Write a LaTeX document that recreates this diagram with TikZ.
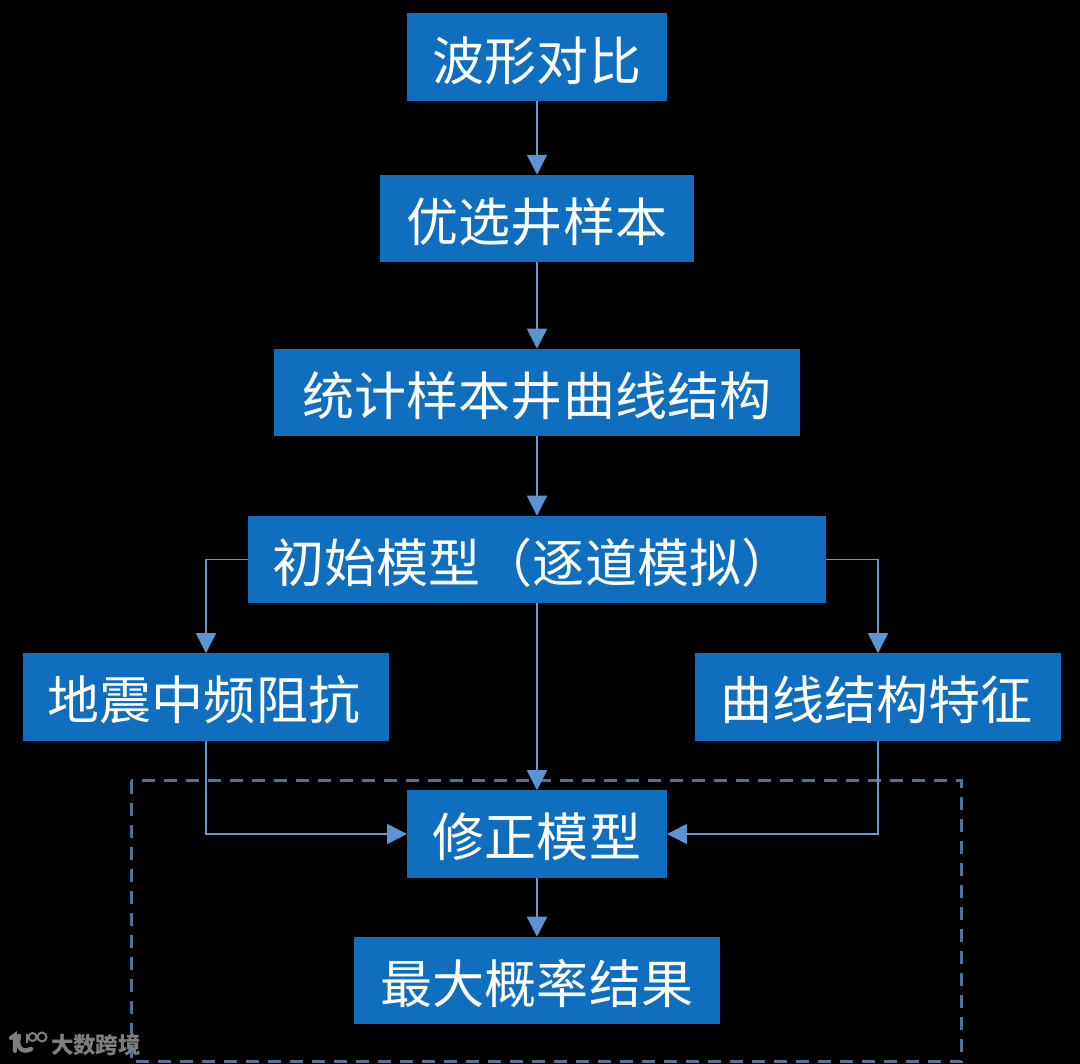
\documentclass[tikz,border=0pt]{standalone}
\usepackage{fontspec}
\usepackage{xcolor}
\newfontfamily\cjk{Noto Sans CJK SC}
\usetikzlibrary{arrows.meta}
\definecolor{boxblue}{HTML}{0F6EBE}
\definecolor{linkblue}{HTML}{6A97CC}
\definecolor{tipblue}{HTML}{5B93D3}
\definecolor{dashblue}{HTML}{4F7299}
\definecolor{markgray}{HTML}{7E7E7E}
\tikzset{
  stagebox/.style={fill=boxblue,text=white,font=\cjk\fontsize{14.8}{16}\selectfont,inner sep=0pt,outer sep=0pt,minimum height=8.75mm,text height=5.2mm,text depth=0.6mm},
  link/.style={draw=linkblue,line width=0.16mm,-{Triangle[length=2mm,width=2mm,color=tipblue]}},
}

\begin{document}
\begin{tikzpicture}[x=0.1mm,y=-0.1mm]
\fill[black] (0,0) rectangle (1080,1064);
\useasboundingbox (0,0) rectangle (1080,1064);

\draw[dashblue,line width=0.3mm,dash pattern=on 1.3mm off 0.9mm] (131.5,781) rectangle (962,1062);

\node (1)[stagebox,minimum width=26mm] at (537,57) {波形对比};
\node (2)[stagebox,minimum width=31.4mm] at (537,218.5) {优选井样本};
\node (3)[stagebox,minimum width=52.6mm] at (537,392.5) {统计样本井曲线结构};
\node (4)[stagebox,minimum width=57.8mm] at (537,559.5) {初始模型（逐道模拟）\kern0.8mm};
\node (5)[stagebox,minimum width=36.6mm] at (206,697) {地震中频阻抗\kern0.4mm};
\node (6)[stagebox,minimum width=36.6mm] at (878,697) {曲线结构特征\kern0.3mm};
\node (7)[stagebox,minimum width=26mm] at (537,834) {修正模型};
\node (8)[stagebox,minimum width=36.6mm] at (537,980.5) {最大概率结果};

\draw[link] (1) to (2);
\draw[link] (2) to (3);
\draw[link] (3) to (4);
\draw[link] (4) to (7);
\draw[link] (4.west) -| (5.north);
\draw[link] (4.east) -| (6.north);
\draw[link] (5.south) |- (7.west);
\draw[link] (6.south) |- (7.east);
\draw[link] (7) to (8);

% watermark
\draw[markgray,line width=0.4mm,line cap=round] (11,1038) -- (15,1035) -- (15,1051);
\draw[markgray,line width=0.45mm,line cap=round] (19,1036) .. controls (16,1046) and (21,1054) .. (31,1049);
\draw[markgray,line width=0.2mm] (27,1034) -- (27,1043);
\draw[markgray,line width=0.2mm] (32.5,1037) circle (4);
\draw[markgray,line width=0.2mm] (42,1037) circle (4.5);
\node (mark)[text=markgray,font=\cjk\bfseries\fontsize{6.4}{7}\selectfont,inner sep=0pt] at (96,1045) {大数跨境};
\end{tikzpicture}
\end{document}
